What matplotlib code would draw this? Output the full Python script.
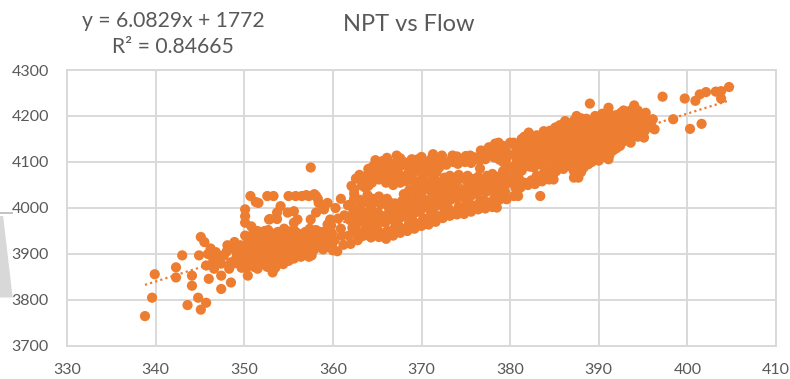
import matplotlib
matplotlib.use("Agg")
import matplotlib.pyplot as plt
from matplotlib.patches import Polygon
import numpy as np

plt.rcParams['font.family'] = ['Lato', 'DejaVu Sans']

# Flow (x) vs NPT (y) observations, grouped by region of the cloud
low_tail = [
    (338.8, 3765), (339.6, 3805), (339.9, 3856), (342.3, 3871), (342.3, 3849),
    (343.0, 3897), (343.6, 3789), (344.1, 3853), (344.1, 3831), (344.8, 3805),
    (345.1, 3779), (345.7, 3794), (345.1, 3937), (345.5, 3926), (344.9, 3897),
    (346.2, 3912), (345.7, 3875), (346.0, 3846), (347.4, 3824), (347.4, 3853),
    (348.5, 3838), (348.3, 3868), (348.1, 3919), (348.9, 3926), (350.4, 3853),
    (351.5, 3868), (353.2, 3860), (346.8, 3904), (347.0, 3890), (347.7, 3897),
    (348.5, 3882), (347.4, 3879), (346.6, 3868), (349.2, 3897), (345.9, 3900),
    (346.5, 3885), (348.0, 3905),
]

band_350 = [
    (349.0, 3880), (349.2, 3895), (348.9, 3910), (349.6, 3919), (349.8, 3900),
    (349.5, 3885), (349.7, 3870), (350.2, 3886), (350.0, 3908), (350.3, 3872),
    (350.4, 3925), (350.1, 3940), (350.8, 3880), (351.0, 3895), (350.7, 3912),
    (350.9, 3928), (351.0, 3945), (350.8, 3960), (351.4, 3885), (351.3, 3902),
    (351.6, 3918), (351.4, 3934), (351.5, 3950), (352.0, 3878), (352.2, 3893),
    (351.9, 3910), (352.1, 3926), (352.0, 3942), (352.6, 3872), (352.7, 3888),
    (352.5, 3904), (352.8, 3920), (352.6, 3936), (352.7, 3952), (353.3, 3880),
    (353.1, 3896), (353.4, 3912), (353.2, 3928), (353.3, 3944), (353.8, 3884),
    (354.0, 3900), (353.7, 3916), (353.9, 3932), (353.8, 3948), (354.4, 3878),
    (354.5, 3893), (354.3, 3909), (354.6, 3925), (354.4, 3941), (354.5, 3955),
    (355.0, 3885), (355.2, 3901), (354.9, 3917), (355.1, 3933), (355.0, 3949),
    (355.6, 3890), (355.7, 3906), (355.5, 3922), (355.8, 3938), (355.6, 3952),
    (356.4, 3894), (356.2, 3912), (356.3, 3928), (356.1, 3944), (357.3, 3894),
    (356.8, 3917), (357.0, 3933), (356.9, 3948), (357.6, 3897), (357.5, 3915),
    (357.7, 3930), (357.4, 3955), (358.2, 3920), (358.4, 3937), (358.1, 3952),
    (358.7, 3933), (359.4, 3926), (358.9, 3910), (359.1, 3945), (359.8, 3962),
    (360.2, 3930), (360.5, 3906), (360.0, 3908), (360.9, 3955), (360.6, 3977),
    (361.3, 3984), (361.0, 3940), (361.2, 3920),
]

upper_350 = [
    (350.7, 4026), (352.6, 4026), (353.3, 4026), (355.0, 4026), (355.8, 4026),
    (356.5, 4026), (357.3, 4026), (358.1, 4026), (357.9, 4030), (351.6, 4011),
    (351.3, 4013), (358.4, 4011), (359.4, 4011), (354.1, 4004), (353.7, 3990),
    (350.1, 3997), (350.1, 3982), (350.1, 3968), (352.8, 3975), (352.9, 3976),
    (353.7, 3976), (354.9, 3990), (355.6, 3993), (356.0, 3975), (357.5, 3975),
    (358.1, 3990), (359.0, 3997), (359.7, 3975), (355.6, 3968), (359.4, 3964),
    (357.5, 4088), (360.9, 4020), (361.7, 4006), (360.3, 4000), (358.3, 4020),
    (357.0, 4028),
]

band_362_380 = [
    (362.0, 3922), (361.8, 3940), (362.2, 3957), (361.9, 3974), (362.3, 3991),
    (362.0, 4008), (362.4, 4031), (362.6, 4064), (362.1, 4048),
    (362.8, 3930), (363.0, 3946), (362.7, 3965), (363.1, 3982), (362.9, 4000),
    (363.0, 4018), (363.3, 4049), (363.0, 4072),
    (363.5, 3940), (363.7, 3955), (363.4, 3972), (363.8, 3990), (363.9, 4028),
    (363.6, 4045), (363.8, 4063), (364.0, 4085),
    (364.3, 3936), (364.5, 3952), (364.4, 3968), (364.6, 3985), (364.3, 4002),
    (364.5, 4020), (364.4, 4055), (364.6, 4072), (364.8, 4104), (364.5, 4090),
    (365.2, 3937), (365.0, 3955), (365.3, 3972), (365.1, 3990), (365.4, 4008),
    (365.2, 4025), (365.4, 4078), (365.2, 4062), (365.5, 4095),
    (366.0, 3933), (366.2, 3950), (365.9, 3968), (366.1, 3985), (366.3, 4003),
    (366.1, 4020), (366.0, 4055), (366.2, 4072), (366.1, 4109), (365.9, 4090),
    (366.8, 3940), (367.0, 3958), (366.7, 3975), (366.9, 3993), (367.0, 4010),
    (366.8, 4050), (367.0, 4068), (366.9, 4086), (367.2, 4114),
    (367.6, 3946), (367.4, 3962), (367.7, 3980), (367.5, 3998), (367.8, 4015),
    (367.6, 4055), (367.5, 4073), (367.7, 4092), (367.6, 4108),
    (368.4, 3950), (368.6, 3968), (368.3, 3985), (368.5, 4003), (368.4, 4020),
    (368.6, 4038), (368.3, 4058), (368.5, 4076), (368.9, 4106), (368.4, 4093),
    (369.2, 3955), (369.0, 3973), (369.3, 3990), (369.1, 4008), (369.4, 4026),
    (369.2, 4045), (369.0, 4063), (369.3, 4080), (369.2, 4100),
    (370.0, 3961), (370.2, 3978), (369.9, 3996), (370.1, 4014), (370.0, 4032),
    (370.2, 4050), (370.1, 4068), (369.9, 4086), (370.0, 4111),
    (370.8, 3964), (371.0, 3982), (370.7, 4000), (370.9, 4018), (371.1, 4036),
    (370.8, 4055), (370.9, 4090), (371.3, 4117), (371.0, 4104),
    (371.6, 3970), (371.4, 3988), (371.7, 4005), (371.5, 4023), (371.8, 4041),
    (371.6, 4060), (371.7, 4078), (371.5, 4096),
    (372.4, 3978), (372.6, 3995), (372.3, 4013), (372.5, 4030), (372.4, 4048),
    (372.6, 4066), (372.5, 4100), (372.3, 4114),
    (373.2, 3983), (373.0, 4000), (373.3, 4018), (373.1, 4036), (373.4, 4053),
    (373.2, 4070), (373.3, 4104), (373.5, 4114),
    (374.0, 3986), (374.2, 4003), (373.9, 4021), (374.1, 4039), (374.0, 4057),
    (374.2, 4072), (374.1, 4096), (374.0, 4112),
    (374.8, 3987), (375.0, 4005), (374.7, 4023), (374.9, 4041), (375.1, 4059),
    (374.9, 4100), (375.0, 4113),
    (375.6, 3992), (375.4, 4010), (375.7, 4028), (375.5, 4046), (375.8, 4063),
    (375.6, 4098), (375.5, 4114),
    (376.4, 3997), (376.6, 4014), (376.3, 4032), (376.5, 4050), (376.4, 4068),
    (376.6, 4086), (376.5, 4104), (376.7, 4125),
    (377.2, 3999), (377.0, 4017), (377.3, 4035), (377.1, 4053), (377.4, 4070),
    (377.2, 4106), (377.0, 4124),
    (378.0, 4002), (378.2, 4020), (377.9, 4038), (378.1, 4056), (378.0, 4074),
    (378.2, 4110), (378.3, 4140), (378.1, 4126),
    (378.5, 4001), (378.8, 4018), (378.6, 4036), (378.9, 4054), (378.7, 4068),
    (378.8, 4105), (378.9, 4122), (378.7, 4142),
    (379.6, 4019), (379.4, 4036), (379.7, 4054), (379.5, 4072), (379.8, 4090),
    (379.6, 4108), (379.5, 4126), (380.0, 4142),
]

band_380_396 = [
    (380.4, 4026), (380.9, 4026), (380.6, 4044), (380.3, 4062), (380.5, 4080),
    (380.7, 4098), (380.4, 4116), (380.6, 4134), (380.4, 4142),
    (381.2, 4045), (381.0, 4063), (381.3, 4081), (381.1, 4099), (381.4, 4117),
    (381.2, 4135), (381.3, 4150),
    (382.0, 4050), (382.2, 4090), (381.9, 4108), (382.1, 4126), (382.0, 4144),
    (382.1, 4164),
    (382.8, 4052), (383.0, 4070), (382.7, 4088), (382.9, 4106), (383.1, 4124),
    (382.8, 4142), (383.0, 4158), (383.4, 4026),
    (383.6, 4058), (383.8, 4076), (383.5, 4094), (383.7, 4112), (383.9, 4130),
    (383.6, 4148), (383.8, 4167),
    (384.4, 4062), (384.9, 4062), (384.2, 4080), (384.5, 4098), (384.3, 4116),
    (384.6, 4134), (384.4, 4152), (384.5, 4168),
    (385.2, 4080), (385.0, 4098), (385.3, 4116), (385.1, 4134), (385.4, 4152),
    (385.1, 4175), (385.3, 4164),
    (386.0, 4085), (386.2, 4103), (385.9, 4121), (386.1, 4139), (386.3, 4157),
    (386.2, 4189), (386.0, 4174),
    (386.8, 4090), (387.2, 4066), (387.0, 4108), (386.7, 4126), (386.9, 4144),
    (387.1, 4162), (386.8, 4180), (387.5, 4200),
    (387.7, 4066), (387.6, 4095), (387.8, 4113), (387.5, 4131), (387.7, 4149),
    (387.6, 4167), (387.8, 4185),
    (388.3, 4088), (388.4, 4104), (388.6, 4122), (388.3, 4140), (388.5, 4158),
    (388.4, 4176), (388.6, 4194), (389.0, 4227),
    (389.2, 4100), (389.0, 4118), (389.3, 4136), (389.1, 4154), (389.4, 4172),
    (389.2, 4190),
    (390.0, 4103), (390.2, 4121), (389.9, 4139), (390.1, 4157), (390.3, 4175),
    (390.0, 4193),
    (391.1, 4106), (390.8, 4124), (391.0, 4142), (390.7, 4160), (390.9, 4178),
    (391.1, 4218), (390.8, 4196),
    (391.6, 4125), (391.4, 4143), (391.7, 4161), (391.5, 4179), (391.8, 4197),
    (392.4, 4135), (392.6, 4153), (392.3, 4171), (392.5, 4189), (392.5, 4207),
    (393.4, 4167), (393.6, 4142), (393.2, 4185), (393.0, 4200), (393.3, 4155),
    (394.0, 4223), (394.1, 4175), (393.9, 4190), (394.2, 4205),
    (395.1, 4153), (394.8, 4180), (395.0, 4195), (395.3, 4207), (394.6, 4165),
    (396.0, 4175), (395.6, 4190), (395.8, 4185),
]

high_tail = [
    (397.2, 4242), (398.4, 4193), (399.7, 4238), (400.3, 4172), (400.9, 4233),
    (401.6, 4183), (401.4, 4247), (402.1, 4252), (403.2, 4253), (403.8, 4254),
    (403.8, 4238), (404.7, 4263), (396.3, 4171), (396.1, 4193),
]

# Further readings inside the dense band, listed per flow value
dense_flow = [
    349.3, 350.5, 351.1, 351.7, 352.3, 352.9, 353.5, 354.1, 354.7, 355.3,
    355.9, 356.6, 357.2, 357.9, 358.6, 359.3, 359.9,
    362.4, 363.2, 364.0, 364.8, 365.6, 366.4, 367.2, 368.0, 368.8, 369.6,
    370.4, 371.2, 372.0, 372.8, 373.6, 374.4, 375.2, 376.0, 376.8, 377.6,
    378.4, 379.2,
    380.8, 381.6, 382.4, 383.2, 384.0, 384.8, 385.6, 386.4, 387.2, 388.0,
    388.8, 389.6, 390.4, 391.2, 392.0, 392.8, 393.6, 394.4, 395.2,
]
dense_npt = [
    [3890, 3905], [3875, 3895, 3918, 3932], [3872, 3888, 3905, 3920, 3938],
    [3880, 3895, 3928, 3944], [3884, 3900, 3918, 3934, 3950],
    [3876, 3892, 3910, 3926, 3942], [3870, 3888, 3904, 3920, 3938],
    [3880, 3894, 3912, 3928, 3944], [3888, 3903, 3920, 3938],
    [3893, 3910, 3926, 3942], [3898, 3914, 3930, 3946], [3902, 3920, 3936],
    [3905, 3922, 3942], [3910, 3925, 3942], [3918, 3948],
    [3915, 3938, 3952], [3920, 3945],
    [3948, 3983, 4020, 4040], [3938, 3973, 4008, 4060],
    [3945, 3978, 4012, 4048, 4075], [3944, 3962, 4014, 4065, 4085],
    [3945, 3980, 4016, 4068, 4102], [3942, 3976, 4012, 4064, 4098],
    [3950, 3985, 4003, 4060, 4100], [3955, 3990, 4030, 4065, 4100],
    [3962, 3998, 4035, 4070, 4088], [3966, 4002, 4038, 4056, 4094, 4106],
    [3970, 4006, 4042, 4078, 4098], [3975, 4010, 4046, 4070, 4110],
    [3982, 4016, 4052, 4088, 4108], [3988, 4022, 4058, 4094],
    [3992, 4028, 4062, 4100], [3995, 4032, 4066, 4106],
    [3998, 4035, 4070, 4106], [4005, 4040, 4058, 4110],
    [4008, 4044, 4062, 4115], [4012, 4046, 4064, 4117, 4132],
    [4012, 4046, 4062, 4116, 4134], [4028, 4062, 4080, 4100, 4118, 4135],
    [4035, 4070, 4106, 4125], [4055, 4090, 4126, 4155],
    [4060, 4098, 4115, 4135, 4152], [4062, 4098, 4115, 4135, 4150],
    [4068, 4104, 4122, 4140, 4160], [4072, 4088, 4107, 4125, 4143, 4160],
    [4090, 4110, 4128, 4146, 4166, 4180], [4095, 4112, 4130, 4148, 4166, 4182],
    [4080, 4100, 4118, 4136, 4154, 4172, 4190],
    [4078, 4100, 4120, 4140, 4160, 4180, 4195],
    [4095, 4112, 4130, 4148, 4166, 4185], [4110, 4128, 4146, 4164, 4182, 4200],
    [4112, 4130, 4148, 4166, 4184, 4205], [4115, 4134, 4152, 4170, 4188, 4205],
    [4130, 4148, 4166, 4184, 4202], [4145, 4162, 4178, 4195, 4212],
    [4160, 4178, 4196, 4212], [4155, 4172, 4188, 4212], [4168, 4185, 4198],
]

# Linear fit reported on the chart
slope, intercept, r_squared = 6.0829, 1772, 0.84665
x_ticks = [330, 340, 350, 360, 370, 380, 390, 400, 410]
y_ticks = [3700, 3800, 3900, 4000, 4100, 4200, 4300]

points = low_tail + band_350 + upper_350 + band_362_380 + band_380_396 + high_tail
points += [(fx, fy) for fx, col in zip(dense_flow, dense_npt) for fy in col]
flow = np.array([p[0] for p in points])
npt = np.array([p[1] for p in points])

orange = '#ED7D31'
grid_grey = '#D9D9D9'
text_grey = '#595959'

fig = plt.figure(figsize=(7.9, 3.79), dpi=100)
ax = fig.add_axes([0.0848, 0.0871, 0.8975, 0.7282])

ax.scatter(flow, npt, s=54, color=orange, edgecolors='none', zorder=3)

fit_x = np.array([flow.min(), flow.max()])
ax.plot(fit_x, slope * fit_x + intercept, color=orange, lw=1.6,
        linestyle=(0, (1, 1.4)), zorder=4)

ax.set_xlim(330, 410)
ax.set_ylim(3700, 4300)
ax.set_xticks(x_ticks)
ax.set_yticks(y_ticks)
ax.grid(True, color=grid_grey, lw=1.4, zorder=0)
ax.set_axisbelow(True)
for sp in ax.spines.values():
    sp.set_color(grid_grey)
    sp.set_linewidth(1.4)
ax.tick_params(length=0, labelsize=11.5, labelcolor=text_grey)
ax.tick_params(axis='x', pad=12)
ax.tick_params(axis='y', pad=13)

fig.text(0.517, 0.935, 'NPT vs Flow', ha='center', va='center',
         fontsize=17, color=text_grey)
fig.text(0.219, 0.945, f'y = {slope}x + {intercept}', ha='center', va='center',
         fontsize=15.2, color=text_grey)
fig.text(0.219, 0.877, f'R² = {r_squared}', ha='center', va='center',
         fontsize=15.2, color=text_grey)

# soft grey swoosh at the left edge of the slide
fig.patches.append(Polygon([(0, 0.44), (0.016, 0.44), (0.016, 0.436),
                            (0.004, 0.436), (0, 0.436)],
                           closed=True, transform=fig.transFigure,
                           facecolor='#c4c4c4', edgecolor='none'))
fig.patches.append(Polygon([(0, 0.43), (0.004, 0.43), (0.016, 0.215),
                            (0, 0.215)],
                           closed=True, transform=fig.transFigure,
                           facecolor='#cfcfcf', edgecolor='none', alpha=0.8))

fig.savefig('out.png', dpi=100)
